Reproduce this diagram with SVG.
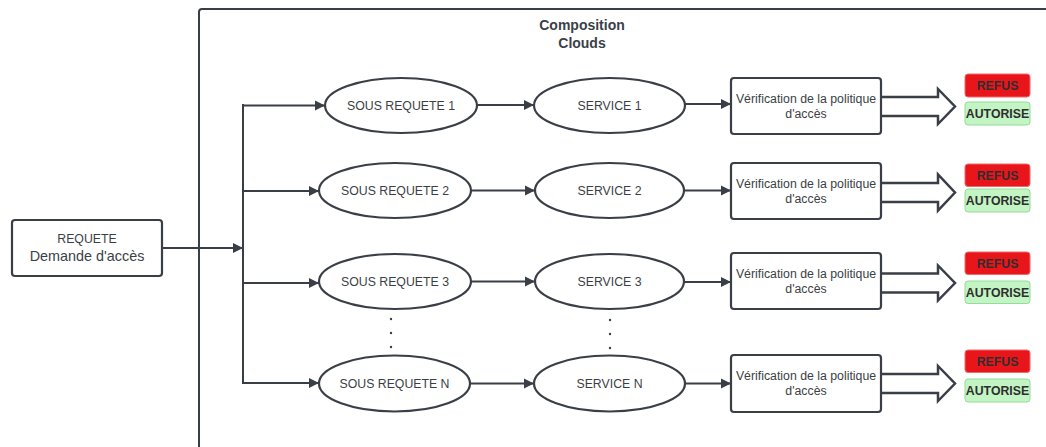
<svg xmlns="http://www.w3.org/2000/svg" width="1046" height="447" viewBox="0 0 1046 447">
  <defs>
    <marker id="arrow" markerUnits="userSpaceOnUse" markerWidth="12" markerHeight="12" viewBox="0 0 12 12" refX="11" refY="6" orient="auto">
      <path d="M1,1 L11,6 L1,11 Z" fill="#3a3f47"/>
    </marker>
    <style>
      .ln { fill: none; stroke: #3a3f47; stroke-width: 2; }
      .shape { fill: #ffffff; stroke: #3a3f47; stroke-width: 2.2; }
      .fat { fill: #ffffff; stroke: #3a3f47; stroke-width: 2.5; stroke-linejoin: miter; }
      .txt { font-family: "Liberation Sans", Arial, sans-serif; font-size: 12.3px; fill: #3b3f45; text-anchor: middle; }
      .big { font-size: 14.4px; }
      .title { font-family: "Liberation Sans", Arial, sans-serif; font-size: 14px; font-weight: bold; fill: #3a3f47; text-anchor: middle; }
      .refus { fill: #e8161b; stroke: #f2696c; stroke-width: 1; }
      .ok { fill: #c3f4c4; stroke: #94dc97; stroke-width: 1; }
      .lbl { font-family: "Liberation Sans", Arial, sans-serif; font-size: 12.3px; font-weight: bold; fill: #2e2e2e; text-anchor: middle; }
      .dot { fill: #3a3f47; }
    </style>
  </defs>

  <rect width="1046" height="447" fill="#ffffff"/>

  <!-- container -->
  <g id="composition-clouds">
    <path class="ln" d="M199,447 V12 Q199,9 202,9 H1046"/>
    <text class="title" x="582" y="30">Composition</text>
    <text class="title" x="582" y="48">Clouds</text>
  </g>

  <!-- connectors -->
  <g id="connectors">
    <line class="ln" x1="162" y1="248" x2="243" y2="248" marker-end="url(#arrow)"/>
    <line class="ln" x1="243" y1="104" x2="243" y2="384"/>
    <line class="ln" x1="242" y1="105.5" x2="325" y2="105.5" marker-end="url(#arrow)"/>
    <line class="ln" x1="242" y1="191" x2="319" y2="191" marker-end="url(#arrow)"/>
    <line class="ln" x1="242" y1="283" x2="319" y2="283" marker-end="url(#arrow)"/>
    <line class="ln" x1="242" y1="383" x2="319" y2="383" marker-end="url(#arrow)"/>

    <line class="ln" x1="477" y1="105" x2="534" y2="105" marker-end="url(#arrow)"/>
    <line class="ln" x1="471" y1="190.5" x2="535" y2="190.5" marker-end="url(#arrow)"/>
    <line class="ln" x1="471" y1="281.5" x2="535" y2="281.5" marker-end="url(#arrow)"/>
    <line class="ln" x1="470" y1="383.5" x2="534" y2="383.5" marker-end="url(#arrow)"/>

    <line class="ln" x1="685" y1="104" x2="731" y2="104" marker-end="url(#arrow)"/>
    <line class="ln" x1="684" y1="190.5" x2="731" y2="190.5" marker-end="url(#arrow)"/>
    <line class="ln" x1="684" y1="282" x2="731" y2="282" marker-end="url(#arrow)"/>
    <line class="ln" x1="685" y1="383.5" x2="731" y2="383.5" marker-end="url(#arrow)"/>

    <path class="fat" d="M881,97 H938 V89 L955,106.5 L938,124 V116 H881"/>
    <path class="fat" d="M881,183 H938 V174.5 L955,192.5 L938,210.5 V202 H881"/>
    <path class="fat" d="M881,273.5 H938 V265.5 L955,283 L938,300.5 V292.5 H881"/>
    <path class="fat" d="M881,374 H938 V366 L955,383.5 L938,401 V393 H881"/>

    <!-- ellipsis dots between rows 3 and N -->
    <circle class="dot" cx="391" cy="319" r="1.2"/>
    <circle class="dot" cx="391" cy="333" r="1.2"/>
    <circle class="dot" cx="391" cy="347" r="1.2"/>
    <circle class="dot" cx="610" cy="320" r="1.2"/>
    <circle class="dot" cx="610" cy="334" r="1.2"/>
    <circle class="dot" cx="610" cy="348" r="1.2"/>
  </g>

  <!-- request -->
  <g id="requete">
    <rect class="shape" x="12" y="220" width="150" height="56" rx="3"/>
    <text class="txt" x="87" y="242.5">REQUETE</text>
    <text class="txt big" x="87" y="261">Demande d'accès</text>
  </g>

  <!-- row 1 -->
  <g id="sous-requete-1">
    <ellipse class="shape" cx="401" cy="105.5" rx="76" ry="27.5"/>
    <text class="txt" x="401" y="110">SOUS REQUETE 1</text>
  </g>
  <g id="service-1">
    <ellipse class="shape" cx="609.5" cy="105.5" rx="75.5" ry="27.5"/>
    <text class="txt" x="609.5" y="110">SERVICE 1</text>
  </g>
  <g id="verification-1">
    <rect class="shape" x="731" y="78" width="150" height="56" rx="3"/>
    <text class="txt" x="806" y="102.5">Vérification de la politique</text>
    <text class="txt" x="806" y="117.5">d'accès</text>
  </g>
  <g id="decision-1">
    <rect class="refus" x="965" y="74" width="65" height="23" rx="3"/>
    <text class="lbl" x="997.5" y="90">REFUS</text>
    <rect class="ok" x="965" y="102" width="65" height="23" rx="3"/>
    <text class="lbl" x="997.5" y="118">AUTORISE</text>
  </g>

  <!-- row 2 -->
  <g id="sous-requete-2">
    <ellipse class="shape" cx="395" cy="190.5" rx="76" ry="27.5"/>
    <text class="txt" x="395" y="195">SOUS REQUETE 2</text>
  </g>
  <g id="service-2">
    <ellipse class="shape" cx="609.5" cy="190.5" rx="74.5" ry="27.5"/>
    <text class="txt" x="609.5" y="195">SERVICE 2</text>
  </g>
  <g id="verification-2">
    <rect class="shape" x="731" y="163" width="150" height="56" rx="3"/>
    <text class="txt" x="806" y="187.5">Vérification de la politique</text>
    <text class="txt" x="806" y="202.5">d'accès</text>
  </g>
  <g id="decision-2">
    <rect class="refus" x="965" y="164" width="65" height="22.5" rx="3"/>
    <text class="lbl" x="997.5" y="179.5">REFUS</text>
    <rect class="ok" x="965" y="189" width="65" height="23" rx="3"/>
    <text class="lbl" x="997.5" y="205">AUTORISE</text>
  </g>

  <!-- row 3 -->
  <g id="sous-requete-3">
    <ellipse class="shape" cx="395" cy="281.5" rx="76" ry="27.5"/>
    <text class="txt" x="395" y="286">SOUS REQUETE 3</text>
  </g>
  <g id="service-3">
    <ellipse class="shape" cx="609.5" cy="281.5" rx="74.5" ry="27.5"/>
    <text class="txt" x="609.5" y="286">SERVICE 3</text>
  </g>
  <g id="verification-3">
    <rect class="shape" x="731" y="253" width="150" height="56" rx="3"/>
    <text class="txt" x="806" y="277.5">Vérification de la politique</text>
    <text class="txt" x="806" y="292.5">d'accès</text>
  </g>
  <g id="decision-3">
    <rect class="refus" x="965" y="252" width="65" height="22.5" rx="3"/>
    <text class="lbl" x="997.5" y="267.5">REFUS</text>
    <rect class="ok" x="965" y="281" width="65" height="22.5" rx="3"/>
    <text class="lbl" x="997.5" y="296.5">AUTORISE</text>
  </g>

  <!-- row N -->
  <g id="sous-requete-n">
    <ellipse class="shape" cx="394.5" cy="383.5" rx="75.5" ry="28"/>
    <text class="txt" x="394.5" y="388">SOUS REQUETE N</text>
  </g>
  <g id="service-n">
    <ellipse class="shape" cx="609.5" cy="383.5" rx="75.5" ry="28"/>
    <text class="txt" x="609.5" y="388">SERVICE N</text>
  </g>
  <g id="verification-n">
    <rect class="shape" x="731" y="355" width="150" height="57" rx="3"/>
    <text class="txt" x="806" y="379.5">Vérification de la politique</text>
    <text class="txt" x="806" y="394.5">d'accès</text>
  </g>
  <g id="decision-n">
    <rect class="refus" x="965" y="350" width="65" height="22.5" rx="3"/>
    <text class="lbl" x="997.5" y="365.5">REFUS</text>
    <rect class="ok" x="965" y="379" width="65" height="23" rx="3"/>
    <text class="lbl" x="997.5" y="395">AUTORISE</text>
  </g>
</svg>
